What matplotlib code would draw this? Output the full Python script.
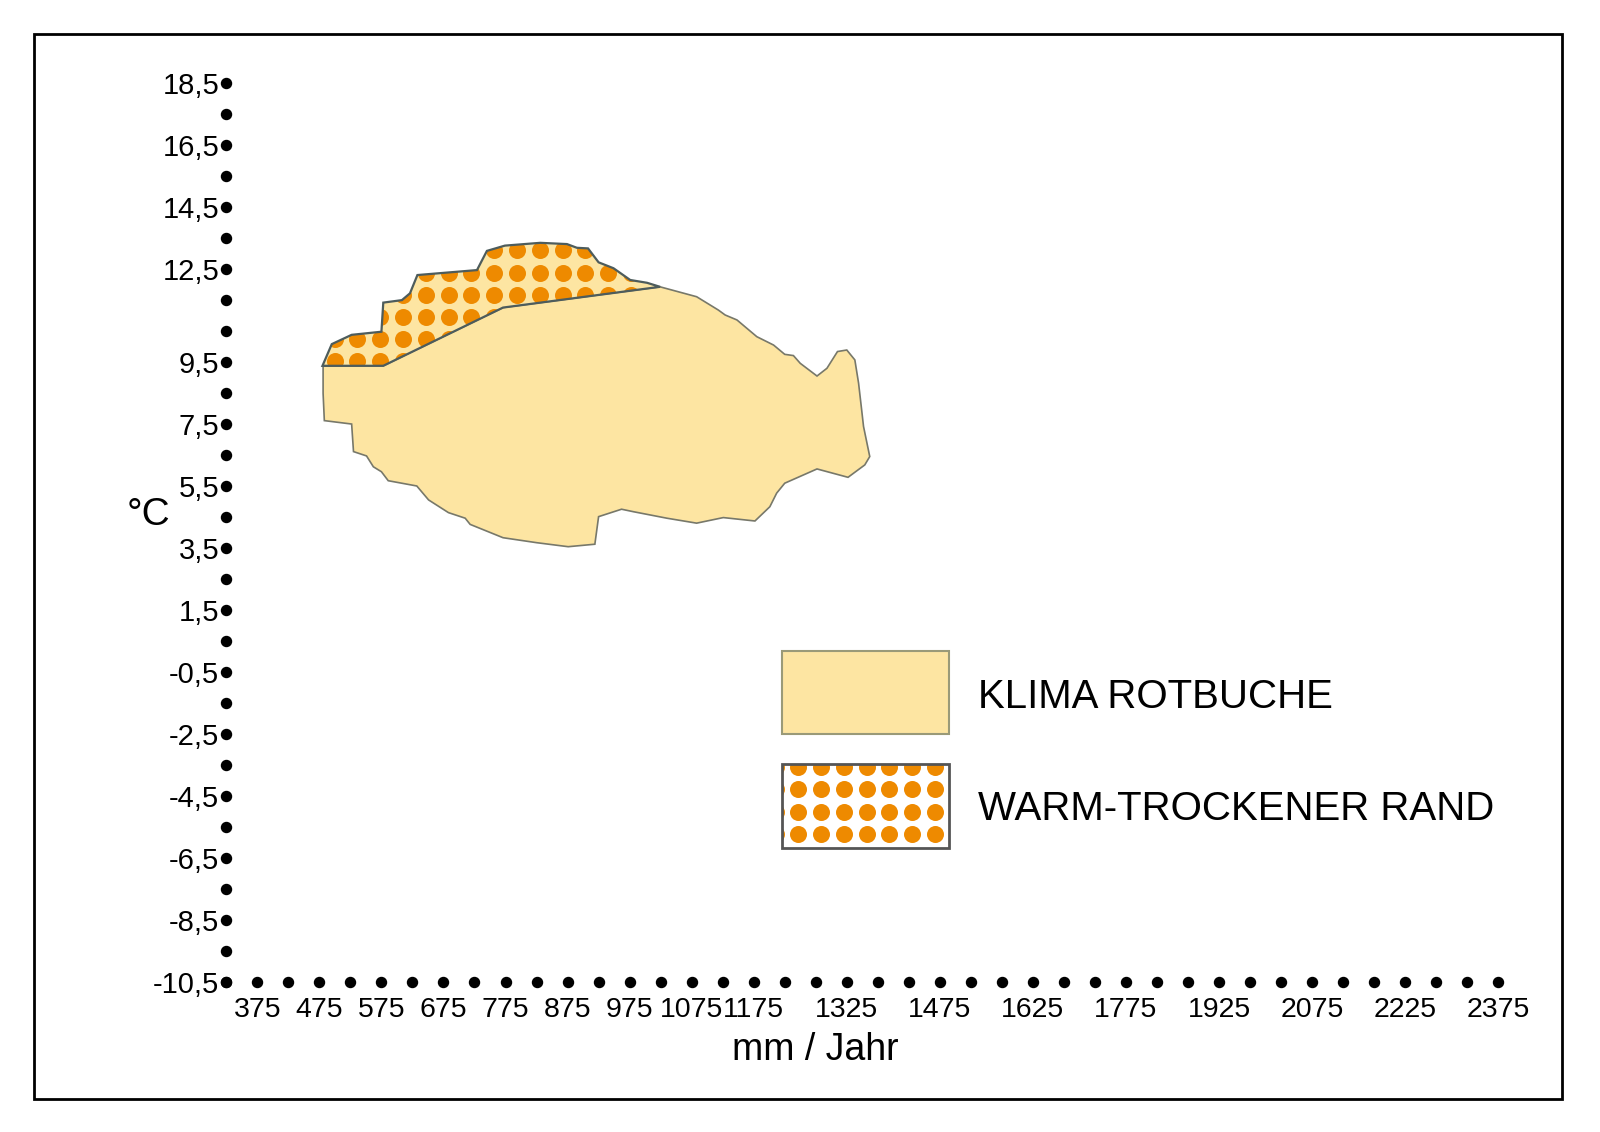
import numpy as np
import matplotlib.pyplot as plt
from matplotlib.patches import Polygon, Rectangle

# Klimahuelle Rotbuche: Jahresniederschlag (mm) / Jahresmitteltemperatur (°C)
klima_mm = [578, 771, 1024, 1083, 1118, 1129, 1148, 1180, 1207, 1225, 1239, 1250, 1277,
            1293, 1310, 1325, 1338, 1344, 1349, 1352, 1362, 1354, 1327, 1277, 1225, 1212,
            1201, 1177, 1126, 1083, 1035, 981, 962, 925, 919, 876, 825, 771, 718, 710,
            683, 651, 632, 586, 575, 562, 551, 530, 527, 483, 481, 481]
klima_temp = [9.38, 11.26, 11.93, 11.61, 11.18, 11.02, 10.86, 10.32, 10.05, 9.75, 9.71, 9.46, 9.05,
              9.3, 9.84, 9.89, 9.57, 8.82, 7.95, 7.42, 6.45, 6.18, 5.78, 6.05, 5.59, 5.27,
              4.83, 4.37, 4.48, 4.3, 4.46, 4.67, 4.75, 4.51, 3.62, 3.54, 3.67, 3.83, 4.26, 4.46,
              4.64, 5.05, 5.5, 5.67, 5.96, 6.12, 6.47, 6.61, 7.5, 7.61, 8.49, 9.37]

# warm-trockener Rand
rand_mm = [480, 495, 527, 575, 578, 608, 621, 633, 669, 729, 745, 774, 831, 874, 890, 908,
           925, 949, 976, 1003, 1024, 771, 578]
rand_temp = [9.38, 10.08, 10.38, 10.48, 11.42, 11.5, 11.72, 12.31, 12.37, 12.47, 13.09, 13.26,
             13.35, 13.31, 13.19, 13.17, 12.72, 12.53, 12.15, 12.06, 11.93, 11.26, 9.38]

x_labels = [375, 475, 575, 675, 775, 875, 975, 1075, 1175,
            1325, 1475, 1625, 1775, 1925, 2075, 2225, 2375]
y_labels = [18.5, 16.5, 14.5, 12.5, 9.5, 7.5, 5.5, 3.5, 1.5,
            -0.5, -2.5, -4.5, -6.5, -8.5, -10.5]

FILL = '#FDE5A2'
ORANGE = '#EE8A00'
NARROW = ['Liberation Sans Narrow', 'Liberation Sans', 'DejaVu Sans']
REGULAR = ['Liberation Sans', 'DejaVu Sans']

W, H = 1600, 1132
fig = plt.figure(figsize=(W / 100, H / 100), dpi=100)

# overlay in pixel coordinates for frame, legend and labels
ov = fig.add_axes([0, 0, 1, 1])
ov.set_xlim(0, W)
ov.set_ylim(H, 0)
ov.axis('off')
ov.add_patch(Rectangle((34, 34), 1528, 1065, fill=False, lw=2, ec='black'))

# main data axes (corner dot at 325 / -10.5)
x0, x1, ytop, ybot = 226.3, 1498.3, 83.3, 981.6
ax = fig.add_axes([x0 / W, (H - ybot) / H, (x1 - x0) / W, (ybot - ytop) / H])
ax.set_facecolor('none')
ax.set_xlim(325, 2375)
ax.set_ylim(-10.5, 18.5)
for s in ax.spines.values():
    s.set_visible(False)

x_dots = np.arange(325, 2376, 50)
y_dots = np.arange(-10.5, 18.6, 1.0)
ax.scatter(x_dots, np.full(len(x_dots), -10.5), s=52, color='black', clip_on=False, zorder=5)
ax.scatter(np.full(len(y_dots), 325), y_dots, s=52, color='black', clip_on=False, zorder=5)

ax.set_xticks(x_labels)
ax.set_xticklabels([str(v) for v in x_labels], family=NARROW, fontsize=20.5)
ax.set_yticks(y_labels)
ax.set_yticklabels([f'{v:.1f}'.replace('.', ',') for v in y_labels], family=NARROW, fontsize=21)
ax.tick_params(axis='x', length=0, pad=11)
ax.tick_params(axis='y', length=0, pad=5)

klima = Polygon(np.column_stack([klima_mm, klima_temp]), closed=True,
                fc=FILL, ec='#77786a', lw=1.2, zorder=2)
ax.add_patch(klima)
rand = Polygon(np.column_stack([rand_mm, rand_temp]), closed=True,
               fc=FILL, ec='none', zorder=3)
ax.add_patch(rand)

# dot texture inside the warm-dry edge
px_x = (x1 - x0) / 2050.0
px_y = (ybot - ytop) / 29.0
gx = np.arange(499.1 - 36.6 * 2, 1060, 22.8 / px_x)
gy = np.arange(13.1 + 0.72 * 2, 8.5, -22.2 / px_y)
GX, GY = np.meshgrid(gx, gy)
dots = ax.scatter(GX.ravel(), GY.ravel(), s=150, color=ORANGE, lw=0, zorder=3.5)
dots.set_clip_path(rand)
ax.add_patch(Polygon(np.column_stack([rand_mm, rand_temp]), closed=True,
                     fill=False, ec='#4d5c5c', lw=1.6, zorder=4))

# legend
ov.add_patch(Rectangle((781.7, 650.7), 167.6, 83.6, fc=FILL, ec='#9a9a78', lw=1.5))
box2 = Rectangle((781.7, 764), 167.6, 84.3, fc='white', ec='none', zorder=2)
ov.add_patch(box2)
lx = np.arange(775.5, 950, 22.8)
ly = np.arange(766.5, 850, 22.6)
LX, LY = np.meshgrid(lx, ly)
ld = ov.scatter(LX.ravel(), LY.ravel(), s=150, color=ORANGE, lw=0, zorder=3)
ld.set_clip_path(box2)
ov.add_patch(Rectangle((781.7, 764), 167.6, 84.3, fill=False, ec='#555555', lw=2, zorder=4))

ov.text(978, 708, 'KLIMA ROTBUCHE', family=REGULAR, fontsize=29, va='baseline', ha='left')
ov.text(978, 820, 'WARM-TROCKENER RAND', family=REGULAR, fontsize=29, va='baseline', ha='left')
ov.text(148, 515, '°C', family=REGULAR, fontsize=28, va='center', ha='center')
ov.text(815, 1060, 'mm / Jahr', family=REGULAR, fontsize=27, va='baseline', ha='center')

fig.savefig('out.png', dpi=100)
